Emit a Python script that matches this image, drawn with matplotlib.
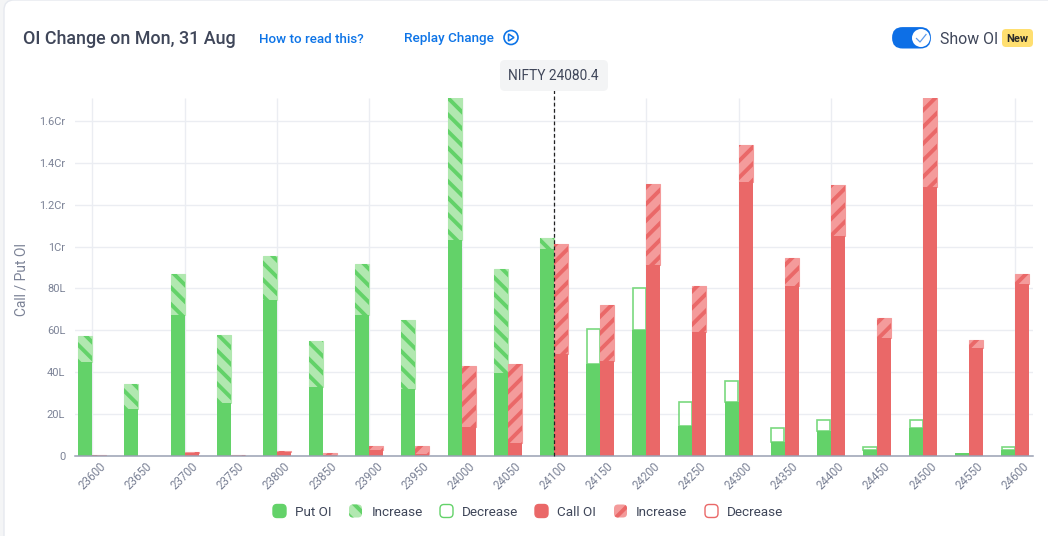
#!/usr/bin/env python

"""OI change chart, put and call open interest per strike (values in lakh)."""

import numpy as np
from matplotlib import pyplot as plt
from matplotlib.patches import Circle, FancyBboxPatch, Polygon, Rectangle

WIDTH, HEIGHT = 1048, 536

strikes = [23600, 23650, 23700, 23750, 23800, 23850, 23900, 23950, 24000, 24050, 24100,
           24150, 24200, 24250, 24300, 24350, 24400, 24450, 24500, 24550, 24600]

# solid part of the bar, and where the previous/new OI ends
put_oi = [45, 22.5, 67.5, 25.5, 74.5, 33, 67.5, 32, 103, 39.5, 99,
          44, 60, 14.5, 26, 6.5, 12, 3, 13.5, 1.5, 3]
put_end = [57.5, 34.5, 87, 58, 95.5, 55, 91.5, 65, 178, 89.5, 104,
           60.5, 80, 26, 36, 13.5, 17, 4.5, 17, 1.5, 4.5]
put_is_increase = [True] * 11 + [False] * 10
call_oi = [0, 0, 1.5, 0, 2, 0.7, 3, 1, 14, 6, 48.5,
           45.5, 91, 59, 131, 81, 105, 56.5, 128.5, 51.5, 82]
call_end = [0.4, 0, 2, 0.4, 2.3, 1.2, 4.8, 4.8, 43, 44, 101,
            72, 130, 81, 148.5, 94.5, 129.5, 66, 180, 55.5, 87]

y_ticks = [0, 20, 40, 60, 80, 100, 120, 140, 160]
y_labels = ['0', '20L', '40L', '60L', '80L', '1Cr', '1.2Cr', '1.4Cr', '1.6Cr']
spot_strike = 24100

GREEN, GREEN_LIGHT = '#63d269', '#b1e8b0'
RED, RED_LIGHT = '#ea6868', '#f49b9b'
GRID, AXIS, TICK = '#ebedf2', '#9aa1b3', '#7b8296'
DARK, BLUE = '#3f4659', '#0d74e7'

plt.rcParams['font.family'] = ['Roboto', 'DejaVu Sans']
plt.rcParams['hatch.linewidth'] = 2.8

fig = plt.figure(figsize=(WIDTH / 100, HEIGHT / 100), dpi=100)

# overlay in pixel coordinates for the page furniture
page = fig.add_axes([0, 0, 1, 1], zorder=0)
page.set_xlim(0, WIDTH)
page.set_ylim(HEIGHT, 0)
page.axis('off')
over = fig.add_axes([0, 0, 1, 1], zorder=5)
over.set_xlim(0, WIDTH)
over.set_ylim(HEIGHT, 0)
over.axis('off')

page.add_patch(Rectangle((0, 0), WIDTH, HEIGHT, fc='#f4f5f6', ec='none'))
page.add_patch(FancyBboxPatch((12, 8), WIDTH, HEIGHT, boxstyle='round,pad=8,rounding_size=10',
                              fc='white', ec='#e6e9ef', lw=1))

# chart axes, 46.15 px per strike
ax = fig.add_axes([75 / WIDTH, (HEIGHT - 456) / HEIGHT, 958 / WIDTH, 358 / HEIGHT], zorder=2)
ax.patch.set_alpha(0)
x = np.arange(len(strikes))
ax.set_xlim(-0.375, 20.38)
ax.set_ylim(0, 170.9)
bar_w = 14 / 46.15


def draw_bar(pos, base, end, color, light, hatch, increase):
    if end <= base and base == 0:
        return
    if end > base:
        if increase:
            ax.bar(pos, end - base, bar_w, bottom=base, color=light, edgecolor=light, lw=0.8, zorder=3)
            ax.bar(pos, end - base, bar_w, bottom=base, facecolor='none', edgecolor=color,
                   hatch=hatch, lw=0, zorder=3)
        else:
            ax.bar(pos, end - base, bar_w - 0.02, bottom=base, color='white', edgecolor=color,
                   lw=1.2, alpha=0.85, zorder=3)
    ax.bar(pos, base, bar_w, color=color, lw=0, zorder=4)


for i in x:
    draw_bar(i - bar_w / 2, put_oi[i], put_end[i], GREEN, GREEN_LIGHT, '\\\\', put_is_increase[i])
    draw_bar(i + bar_w / 2, call_oi[i], call_end[i], RED, RED_LIGHT, '//', True)

ax.vlines(x[::2], 0, 170.9, color=GRID, lw=1, zorder=1)
ax.set_yticks(y_ticks)
ax.set_yticklabels(y_labels, color=TICK, fontsize=7.9)
ax.set_xticks(x)
ax.set_xticklabels(strikes, rotation=45, ha='center', va='top', color=TICK, fontsize=8.4)
ax.tick_params(axis='x', length=0, pad=3)
ax.tick_params(axis='y', length=0, pad=7)
ax.grid(axis='y', color=GRID, lw=1, zorder=1)
ax.set_axisbelow(True)
for side in ['top', 'right', 'left']:
    ax.spines[side].set_visible(False)
ax.spines['bottom'].set_color(AXIS)
ax.spines['bottom'].set_linewidth(1.1)
ax.spines['bottom'].set_zorder(6)

# spot marker
ax.plot([strikes.index(spot_strike)] * 2, [0, 175], color='#222222', lw=0.9, ls=(0, (3, 2)),
        zorder=7, clip_on=False)
over.add_patch(FancyBboxPatch((503, 63), 102, 25, boxstyle='round,pad=3,rounding_size=5',
                              fc='#f3f4f5', ec='none'))
over.text(553.5, 76.5, 'NIFTY 24080.4', color=DARK, fontsize=9.9, ha='center', va='center')

over.text(22, 279, 'Call / Put OI', color=TICK, fontsize=10, rotation=90, ha='center', va='center')

# header
over.text(23, 39, 'OI Change on Mon, 31 Aug', color=DARK, fontsize=12.9, fontweight='medium',
          ha='left', va='center')
over.text(259, 39.5, 'How to read this?', color=BLUE, fontsize=9.6, fontweight='medium',
          ha='left', va='center')
over.text(404, 38.5, 'Replay Change', color=BLUE, fontsize=9.7, fontweight='medium',
          ha='left', va='center')
over.add_patch(Circle((511, 37.5), 7, fc='white', ec=BLUE, lw=1.2))
over.add_patch(Polygon([(508.5, 34), (508.5, 41), (514, 37.5)], closed=True, fc='white', ec=BLUE, lw=1.1))

# toggle
over.add_patch(FancyBboxPatch((902.5, 37.5), 18, 0.6, boxstyle='round,pad=10.4,rounding_size=10.4',
                              fc='#0d6fe6', ec='none'))
over.add_patch(Circle((921, 38), 9, fc='white', ec='none'))
over.plot([916.5, 920, 926], [38.5, 42, 34.5], color='#5f9bea', lw=0.9)
over.text(940, 39, 'Show OI', color=DARK, fontsize=11.4, ha='left', va='center')
over.add_patch(FancyBboxPatch((1005, 32), 25, 12, boxstyle='round,pad=3,rounding_size=4',
                              fc='#ffdf70', ec='none'))
over.text(1017.5, 38.5, 'New', color='#2a2a2a', fontsize=8, fontweight='bold', ha='center', va='center')


# legend
def legend_box(left, face, edge, hatch=None):
    over.add_patch(FancyBboxPatch((left + 3, 507.5), 7, 7, boxstyle='round,pad=3,rounding_size=4',
                                  fc=face, ec=edge, hatch=hatch, lw=0 if hatch else 1))


legend_items = [(273, 295, 'Put OI', GREEN, GREEN, None),
                (349, 371.5, 'Increase', GREEN_LIGHT, GREEN, '\\\\'),
                (440, 462, 'Decrease', 'white', GREEN, None),
                (535, 557, 'Call OI', RED, RED, None),
                (614, 636, 'Increase', RED_LIGHT, RED, '//'),
                (705, 727, 'Decrease', 'white', RED, None)]
for box_x, text_x, label, face, edge, hatch in legend_items:
    legend_box(box_x, face, edge, hatch)
    over.text(text_x, 512, label, color=DARK, fontsize=9.7, ha='left', va='center')

fig.savefig('out.png', dpi=100)
